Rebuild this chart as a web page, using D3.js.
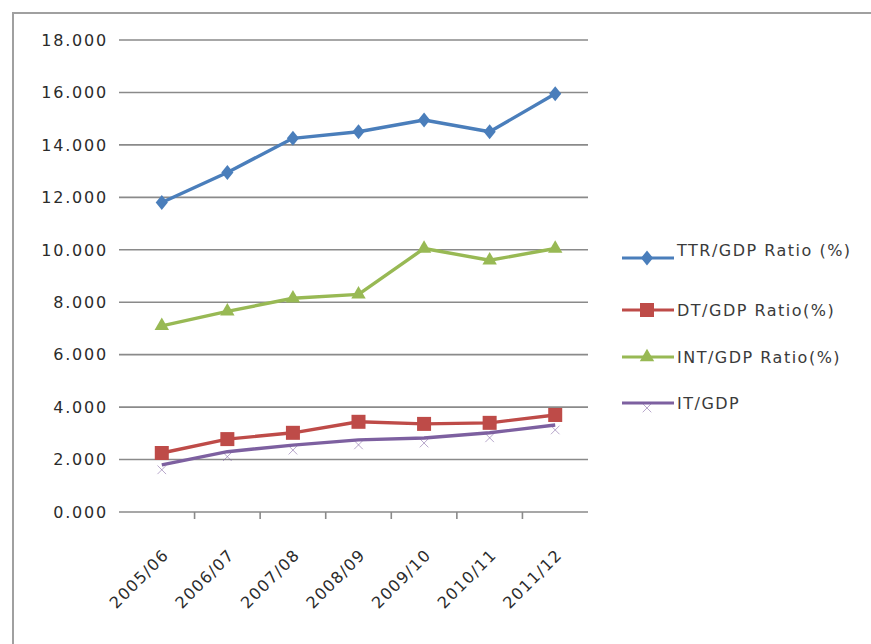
<!DOCTYPE html>
<html>
<head>
<meta charset="utf-8">
<script src="https://cdn.jsdelivr.net/npm/d3@7"></script>
<style>
  html, body { margin: 0; padding: 0; background: #fff; }
  svg { display: block; }
  text { font-family: "DejaVu Sans", sans-serif; fill: #2b2b2b; }
</style>
</head>
<body>
<svg id="chart" width="871" height="644"></svg>
<script>
// Fiscal years on the horizontal axis
const years = ["2005/06", "2006/07", "2007/08", "2008/09", "2009/10", "2010/11", "2011/12"];

// Ratios to GDP (%)
const ttrGdp = [11.8, 12.95, 14.25, 14.5, 14.95, 14.5, 15.95];
const dtGdp  = [2.25, 2.78, 3.02, 3.44, 3.36, 3.4, 3.7];
const intGdp = [7.1, 7.65, 8.15, 8.3, 10.05, 9.6, 10.05];
const itGdp  = [1.8, 2.3, 2.55, 2.75, 2.82, 3.02, 3.32];

const yTicks = [0, 2, 4, 6, 8, 10, 12, 14, 16, 18];

const seriesNames = ["TTR/GDP Ratio (%)", "DT/GDP Ratio(%)", "INT/GDP Ratio(%)", "IT/GDP"];
const seriesColors = ["#4a7ebb", "#be4b48", "#98b954", "#7d60a0"];
const seriesMarkers = ["diamond", "square", "triangle", "cross"];

const series = [ttrGdp, dtGdp, intGdp, itGdp].map((values, i) => ({
  name: seriesNames[i], values, color: seriesColors[i], marker: seriesMarkers[i]
}));

const svg = d3.select("#chart");

// outer chart frame (top and left edges visible)
svg.append("path")
  .attr("d", "M13,660 L13,13 L880,13")
  .attr("fill", "none").attr("stroke", "#a0a0a0").attr("stroke-width", 2);

const plot = { left: 119, right: 588, top: 40, bottom: 512 };

const x = d3.scaleBand().domain(years).range([129, plot.right]);
const y = d3.scaleLinear().domain([0, 18]).range([plot.bottom, plot.top]);

// horizontal gridlines
svg.append("g").selectAll("line").data(yTicks).join("line")
  .attr("x1", plot.left).attr("x2", plot.right)
  .attr("y1", d => y(d)).attr("y2", d => y(d))
  .attr("stroke", "#8a8a8a").attr("stroke-width", 1.6);

// y tick labels
svg.append("g").selectAll("text").data(yTicks).join("text")
  .attr("x", 108).attr("y", d => y(d)).attr("dy", "0.36em")
  .attr("text-anchor", "end")
  .style("font-size", "16px").style("letter-spacing", "1.8px")
  .text(d => d3.format(".3f")(d));

// x axis tick marks at category boundaries
const bounds = years.slice(1).map(c => x(c));
svg.append("g").selectAll("line").data(bounds).join("line")
  .attr("x1", d => d).attr("x2", d => d)
  .attr("y1", plot.bottom).attr("y2", plot.bottom + 7)
  .attr("stroke", "#8a8a8a").attr("stroke-width", 1.6);

// rotated category labels
svg.append("g").selectAll("text").data(years).join("text")
  .attr("transform", d => `translate(${x(d) + x.bandwidth() / 2 + 4},${plot.bottom + 40}) rotate(-45)`)
  .attr("text-anchor", "end")
  .attr("dy", "0.35em")
  .style("font-size", "16px").style("letter-spacing", "1.3px")
  .text(d => d);

const cx = (d, i) => x(years[i]) + x.bandwidth() / 2;

function drawMarker(g, type, color) {
  if (type === "diamond") {
    g.append("path").attr("d", d3.symbol(d3.symbolDiamond2, 130)()).attr("fill", color)
      .attr("transform", "scale(0.85,1.05)");
  } else if (type === "square") {
    g.append("rect").attr("x", -7).attr("y", -7).attr("width", 14).attr("height", 14).attr("fill", color);
  } else if (type === "triangle") {
    g.append("path").attr("d", d3.symbol(d3.symbolTriangle, 90)()).attr("fill", color);
  } else {
    g.append("path").attr("d", d3.symbol(d3.symbolX, 50)())
      .attr("stroke", color).attr("stroke-width", 1).attr("fill", "none").attr("opacity", 0.55)
      .attr("transform", "translate(0,5)");
  }
}

const line = d3.line().x(cx).y(d => y(d));

// draw lines in stacking order: IT lowest so DT overlays it
[3, 2, 1, 0].forEach(i => {
  const s = series[i];
  const g = svg.append("g");
  g.append("path").attr("d", line(s.values))
    .attr("fill", "none").attr("stroke", s.color).attr("stroke-width", 3.4)
    .attr("stroke-linejoin", "round");
  g.selectAll("g.m").data(s.values).join("g").attr("class", "m")
    .attr("transform", (d, j) => `translate(${cx(d, j)},${y(d)})`)
    .each(function () { drawMarker(d3.select(this), s.marker, s.color); });
});

// legend
const legendY = [258, 310, 357, 403];
const legend = svg.append("g");
series.forEach((s, i) => {
  const row = legend.append("g").attr("transform", `translate(622,${legendY[i]})`);
  row.append("line").attr("x1", 0).attr("x2", 52).attr("y1", 0).attr("y2", 0)
    .attr("stroke", s.color).attr("stroke-width", 3.2);
  const m = row.append("g").attr("transform", "translate(25,0)");
  drawMarker(m, s.marker, s.color);
  row.append("text").attr("x", 55).attr("y", i === 0 ? -8 : 0).attr("dy", "0.36em")
    .style("font-size", "16px").style("letter-spacing", "1.5px")
    .style("fill", "#3a3a3a")
    .text(s.name);
});
</script>
</body>
</html>
